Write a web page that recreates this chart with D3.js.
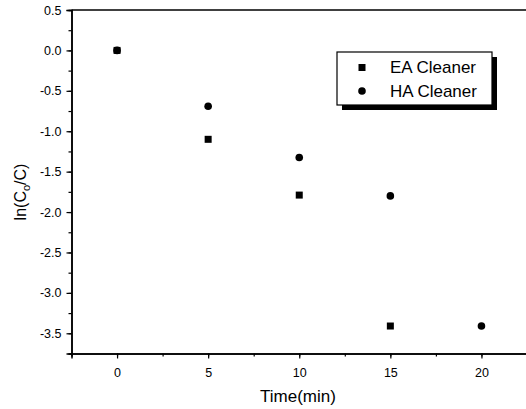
<!DOCTYPE html>
<html><head><meta charset="utf-8">
<script src="https://cdn.jsdelivr.net/npm/d3@7"></script>
<style>body{margin:0;background:#fff}svg{display:block}text{font-family:"Liberation Sans",Arial,sans-serif;fill:#000}</style>
</head><body>
<script>
const timeEA = [0, 5, 10, 15];
const valuesEA = [0, -1.1, -1.79, -3.41];
const timeHA = [0, 5, 10, 15, 20];
const valuesHA = [0, -0.69, -1.325, -1.8, -3.41];
const xTicks = [0, 5, 10, 15, 20];
const yTicks = [0.5, 0.0, -0.5, -1.0, -1.5, -2.0, -2.5, -3.0, -3.5];
const seriesNames = ["EA Cleaner", "HA Cleaner"];

const W = 526, H = 409;
const svg = d3.select("body").append("svg").attr("width", W).attr("height", H);
const x = d3.scaleLinear().domain([-2.5, 22.5]).range([71.5, 527]);
const y = d3.scaleLinear().domain([-3.75, 0.5]).range([353.5, 10]);

const fmtY = d => d.toFixed(1);
const xAxis = d3.axisBottom(x).tickValues(xTicks).tickSize(5).tickFormat(d => String(d));
const xMinor = d3.axisBottom(x).tickValues(d3.range(-2.5, 22.6, 2.5)).tickSize(3).tickFormat("");
const yAxis = d3.axisLeft(y).tickValues(yTicks).tickSize(5).tickFormat(fmtY);
const yMinor = d3.axisLeft(y).tickValues(d3.range(-3.75, 0.51, 0.25)).tickSize(3).tickFormat("");

function style(g){
  g.select(".domain").attr("stroke","#000").attr("stroke-width",1.5);
  g.selectAll(".tick line").attr("stroke","#000").attr("stroke-width",1.2);
  g.selectAll("text").attr("fill","#000").style("font-size","12.5px").style("font-family","'Liberation Sans',Arial,sans-serif");
}
svg.append("g").attr("transform","translate(0,353.5)").call(xMinor).call(style);
svg.append("g").attr("transform","translate(0,353.5)").call(xAxis).call(style).selectAll("text").attr("dy","1.2em");
svg.append("g").attr("transform","translate(71.5,0)").call(yMinor).call(style);
svg.append("g").attr("transform","translate(71.5,0)").call(yAxis).call(style).selectAll("text").attr("x",-10);
svg.append("line").attr("x1",x(-2.5)).attr("x2",x(22.5)).attr("y1",y(0.5)).attr("y2",y(0.5)).attr("stroke","#000").attr("stroke-width",1.5);

svg.append("text").attr("x",298).attr("y",402).attr("text-anchor","middle").style("font-size","17px").text("Time(min)");
const yl = svg.append("text").attr("transform","translate(26,192) rotate(-90)").attr("text-anchor","middle").style("font-size","16px");
yl.append("tspan").text("ln(C");
yl.append("tspan").attr("dy",4).style("font-size","11px").text("o");
yl.append("tspan").attr("dy",-4).text("/C)");

svg.append("g").selectAll("circle").data(timeHA.map((t,i)=>[t,valuesHA[i]])).join("circle")
  .attr("cx",d=>x(d[0])).attr("cy",d=>y(d[1])).attr("r",3.8).attr("fill","#000");
svg.append("g").selectAll("rect").data(timeEA.map((t,i)=>[t,valuesEA[i]])).join("rect")
  .attr("x",d=>x(d[0])-3.5).attr("y",d=>y(d[1])-3.5).attr("width",7).attr("height",7).attr("fill","#000");

const lg = svg.append("g");
lg.append("rect").attr("x",342).attr("y",57).attr("width",155).attr("height",53).attr("fill","#000");
lg.append("rect").attr("x",337).attr("y",52).attr("width",155).attr("height",53).attr("fill","#fff").attr("stroke","#000").attr("stroke-width",1.2);
lg.append("rect").attr("x",358.5).attr("y",64).attr("width",7).attr("height",7).attr("fill","#000");
lg.append("circle").attr("cx",362).attr("cy",91).attr("r",3.8).attr("fill","#000");
lg.selectAll("text.lt").data(seriesNames).join("text").attr("class","lt")
  .attr("x",390).attr("y",(d,i)=>73+i*24).style("font-size","17px").text(d=>d);
</script>
</body></html>
